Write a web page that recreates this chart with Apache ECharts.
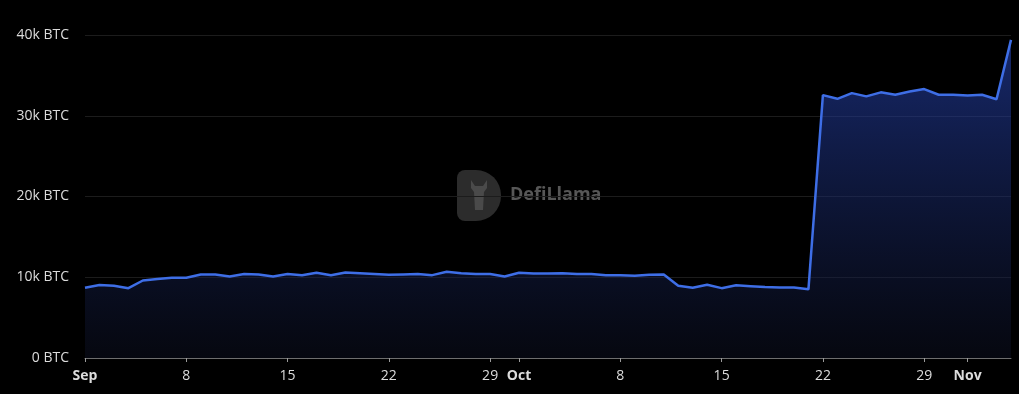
<!DOCTYPE html>
<html>
<head>
<meta charset="utf-8">
<script src="https://cdn.jsdelivr.net/npm/echarts@6/dist/echarts.min.js"></script>
<style>
html,body{margin:0;padding:0;background:#000;}
#chart{width:1019px;height:394px;}
</style>
</head>
<body>
<div id="chart"></div>
<script>
// Daily dates, Sep 1 .. Nov 4
const startDate = '2023-09-01';
const dayCount = 65;
// Values in thousands of BTC
const valuesK = [
  8.7, 9.05, 8.95, 8.65, 9.6, 9.77, 9.93, 9.93, 10.35, 10.35,
  10.1, 10.4, 10.35, 10.1, 10.4, 10.26, 10.55, 10.26, 10.6, 10.5,
  10.4, 10.3, 10.35, 10.4, 10.26, 10.67, 10.5, 10.4, 10.4, 10.1,
  10.55, 10.45, 10.45, 10.5, 10.4, 10.4, 10.26, 10.26, 10.2, 10.3,
  10.35, 8.94, 8.7, 9.06, 8.65, 9.0, 8.9, 8.8, 8.74, 8.74,
  8.5, 32.55, 32.1, 32.8, 32.4, 32.9, 32.6, 33.0, 33.3, 32.6,
  32.6, 32.5, 32.6, 32.05, 39.4
];
const yTicks = [0, 10000, 20000, 30000, 40000];
const unit = 'BTC';
const watermarkText = 'DefiLlama';

const DAY = 86400000;
const dates = [];
const base = Date.UTC(2023, 8, 1);
for (let i = 0; i < dayCount; i++) dates.push(base + i * DAY);
const seriesData = dates.map((d, i) => [d, valuesK[i] * 1000]);

const chart = echarts.init(document.getElementById('chart'));
chart.setOption({
  backgroundColor: '#000000',
  animation: false,
  grid: {left: 85, right: 8, top: 35, bottom: 36, containLabel: false},
  xAxis: {
    type: 'time',
    min: dates[0],
    max: dates[dates.length - 1],
    splitNumber: 5,
    boundaryGap: false,
    axisLine: {show: true, lineStyle: {color: '#6e6e6e', width: 1}},
    axisTick: {show: true, length: 4, lineStyle: {color: '#9a9a9a'}},
    splitLine: {show: false},
    axisLabel: {color: '#dcdcdc', fontSize: 14, fontFamily: 'Open Sans', margin: 11}
  },
  yAxis: {
    type: 'value',
    min: yTicks[0],
    max: yTicks[yTicks.length - 1],
    interval: yTicks[1] - yTicks[0],
    axisLine: {show: false},
    axisTick: {show: false},
    splitLine: {show: true, lineStyle: {color: '#1c1c1c', width: 1}},
    axisLabel: {
      color: '#dcdcdc', fontSize: 14, fontFamily: 'Open Sans', margin: 16,
      formatter: v => (v === 0 ? '0' : (v / 1000) + 'k') + ' ' + unit
    }
  },
  graphic: [
    {
      type: 'group', left: 457, top: 170, silent: true, z: 0,
      children: [
        {type: 'rect', shape: {x: 0, y: 0, width: 44, height: 51, r: [8, 25, 25, 8]}, style: {fill: '#2c2c2c'}},
        {type: 'polygon', shape: {points: [[14,10],[18,16],[26,16],[30,10],[30,18],[27,22],[26,40],[18,40],[17,22],[14,18]]}, style: {fill: '#4a4a4a'}},
        {type: 'text', left: 53, top: 16, style: {text: watermarkText, fill: '#575757', font: 'bold 18px "Open Sans"'}}
      ]
    }
  ],
  series: [{
    type: 'line',
    data: seriesData,
    showSymbol: false,
    symbol: 'none',
    lineStyle: {color: '#3e6ee6', width: 2.5},
    itemStyle: {color: '#3e6ee6'},
    areaStyle: {
      color: new echarts.graphic.LinearGradient(0, 0, 0, 1, [
        {offset: 0, color: 'rgba(38,68,180,0.85)'},
        {offset: 1, color: 'rgba(14,18,38,0.6)'}
      ])
    },
    z: 2
  }]
});
</script>
</body>
</html>
